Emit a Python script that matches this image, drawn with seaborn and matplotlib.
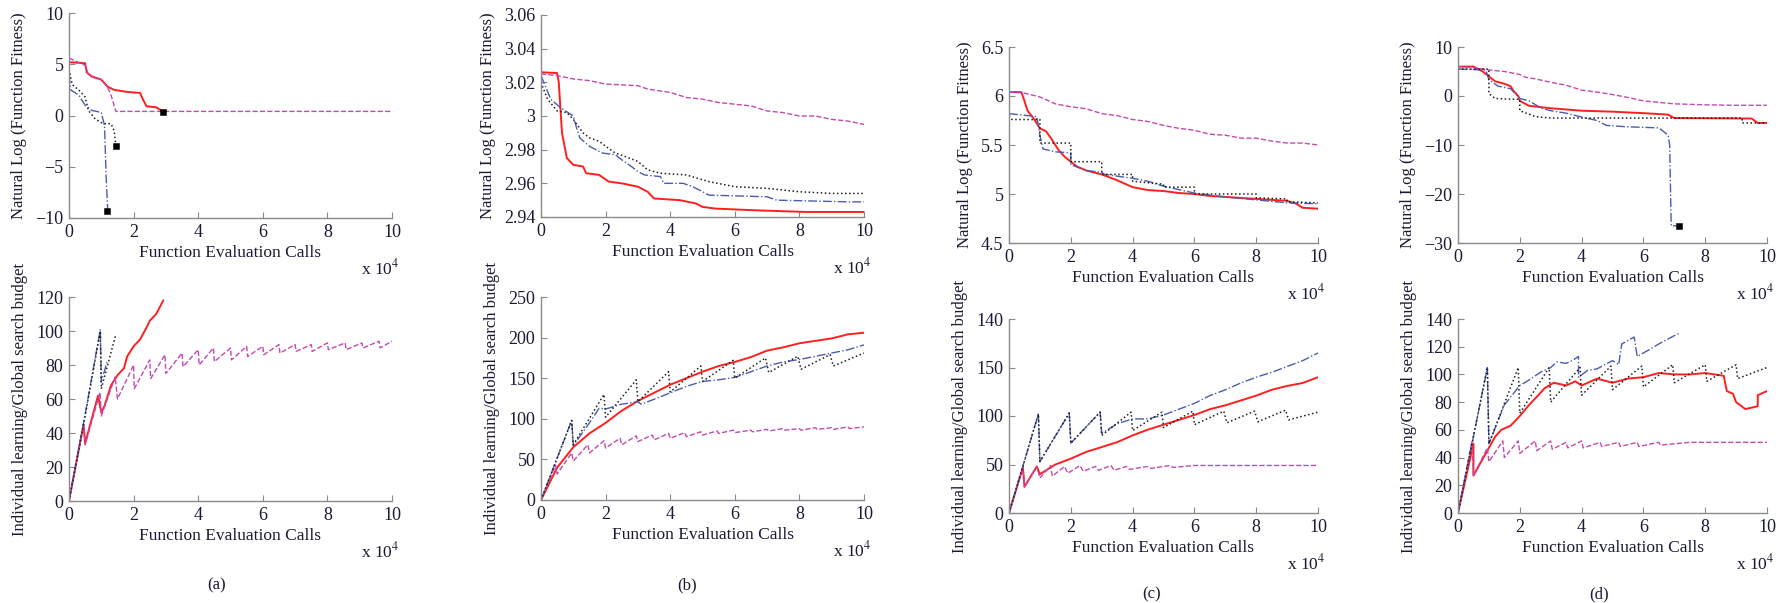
import matplotlib
matplotlib.use("Agg")
import matplotlib.pyplot as plt
import seaborn as sns

# x values are in units of 10^4 function evaluation calls
# ---------- panel (a) ----------
a_top_red = [(0, 5.2), (0.5, 5.1), (0.55, 4.2), (0.7, 3.8), (1.0, 3.5), (1.2, 2.8), (1.4, 2.5),
             (1.8, 2.3), (2.2, 2.2), (2.3, 1.5), (2.4, 0.9), (2.7, 0.8), (2.9, 0.4)]
a_top_mag = [(0, 5.6), (0.5, 4.9), (0.6, 4.0), (1.0, 3.5), (1.2, 2.7), (1.3, 2.0), (1.45, 0.4), (10, 0.4)]
a_top_blk = [(0, 4.5), (0.1, 3.0), (0.3, 2.5), (0.5, 1.8), (0.6, 0.5), (0.8, -0.3), (1.05, -0.8),
             (1.3, -0.8), (1.4, -1.5), (1.45, -3.0)]
a_top_blu = [(0, 4.0), (0.05, 2.5), (0.3, 2.0), (0.5, 1.0), (0.7, 0.5), (1.0, 0.3), (1.1, -1.0),
             (1.15, -6.0), (1.2, -9.3)]
a_top_end_x = [2.92, 1.45, 1.18]
a_top_end_y = [0.3, -3.0, -9.3]

a_bot_red = [(0, 0), (0.45, 45), (0.5, 34), (0.9, 62), (1.0, 52), (1.1, 56), (1.3, 68), (1.5, 74),
             (1.7, 78), (1.8, 85), (2.0, 91), (2.2, 95), (2.4, 102), (2.5, 106), (2.7, 110), (2.92, 118)]
a_bot_mag = [(0, 0), (0.45, 45), (0.5, 33), (0.96, 64), (1.0, 50), (1.43, 73), (1.5, 60), (2.0, 80),
             (2.02, 66), (2.5, 83), (2.53, 72), (2.97, 86), (3.0, 75), (3.5, 87), (3.53, 79),
             (4.0, 89), (4.03, 80), (4.47, 90), (4.5, 82), (5.0, 90), (5.03, 83), (5.5, 91),
             (5.53, 85), (6.0, 91), (6.03, 86), (6.5, 92), (6.53, 87), (7.0, 92), (7.03, 88),
             (7.5, 92), (7.53, 88), (8.0, 93), (8.03, 89), (8.55, 93), (8.58, 89), (9.07, 93),
             (9.1, 90), (9.6, 94), (9.63, 90), (10, 94)]
a_bot_blk = [(0, 0), (0.5, 50), (0.97, 100), (1.0, 66), (1.45, 98)]
a_bot_blu = [(0, 0), (0.5, 51), (0.97, 101), (1.0, 70), (1.18, 82)]

# ---------- panel (b) ----------
b_top_red = [(0, 3.026), (0.5, 3.0255), (0.55, 3.02), (0.6, 3.005), (0.65, 2.99), (0.8, 2.975),
             (1.0, 2.971), (1.3, 2.970), (1.4, 2.966), (1.8, 2.965), (2.1, 2.961), (2.5, 2.960),
             (3.0, 2.958), (3.3, 2.955), (3.5, 2.951), (4.3, 2.950), (4.8, 2.948), (5.0, 2.946),
             (5.4, 2.945), (6.6, 2.944), (8.2, 2.943), (10, 2.943)]
b_top_mag = [(0, 3.025), (0.5, 3.024), (1.0, 3.022), (1.5, 3.021), (2.0, 3.019), (3.0, 3.018),
             (3.3, 3.016), (4.0, 3.014), (4.5, 3.011), (5.0, 3.010), (5.5, 3.008), (6.5, 3.006),
             (7.0, 3.003), (7.5, 3.002), (8.0, 3.000), (8.5, 3.000), (9.0, 2.998), (9.5, 2.997),
             (10, 2.995)]
b_top_blk = [(0, 3.020), (0.2, 3.010), (0.5, 3.003), (0.8, 3.002), (1.0, 2.998), (1.3, 2.990),
             (1.5, 2.987), (1.8, 2.985), (2.0, 2.982), (2.3, 2.978), (2.6, 2.976), (3.0, 2.973),
             (3.3, 2.968), (3.7, 2.966), (4.5, 2.965), (5.2, 2.961), (6.0, 2.958), (7.0, 2.957),
             (8.0, 2.955), (9.0, 2.954), (10, 2.954)]
b_top_blu = [(0, 3.024), (0.3, 3.010), (0.6, 3.005), (1.0, 3.000), (1.1, 2.993), (1.2, 2.987),
             (1.5, 2.982), (1.9, 2.978), (2.3, 2.977), (2.5, 2.974), (2.8, 2.970), (3.0, 2.967),
             (3.2, 2.965), (3.7, 2.964), (3.8, 2.960), (4.4, 2.960), (4.7, 2.958), (5.0, 2.955),
             (5.2, 2.953), (7.0, 2.952), (7.3, 2.950), (9.5, 2.949), (10, 2.949)]

b_bot_red = [(0, 0), (0.5, 40), (1.0, 65), (1.5, 82), (2.0, 95), (2.5, 110), (3.0, 122), (3.5, 132),
             (4.0, 142), (4.5, 150), (5.0, 158), (5.5, 165), (6.0, 170), (6.5, 176), (7.0, 184),
             (7.5, 188), (8.0, 193), (8.5, 196), (9.0, 199), (9.5, 204), (10, 206)]
b_bot_mag = [(0, 0), (0.45, 43), (0.5, 32), (0.95, 58), (1.0, 48), (1.45, 68), (1.5, 58), (1.95, 73),
             (2.0, 64), (2.45, 76), (2.5, 68), (2.95, 79), (3.0, 72), (3.45, 80), (3.5, 74),
             (3.95, 82), (4.0, 76), (4.45, 83), (4.5, 78), (4.95, 84), (5.0, 80), (5.45, 85),
             (5.5, 82), (5.95, 86), (6.0, 83), (6.5, 86), (6.55, 84), (7.0, 87), (7.05, 85),
             (7.5, 88), (7.55, 86), (8.0, 88), (8.05, 86), (8.5, 89), (8.55, 87), (9.0, 89),
             (9.05, 87), (9.5, 90), (9.55, 88), (10, 90)]
b_bot_blk = [(0, 0), (0.95, 98), (1.0, 68), (1.95, 130), (2.0, 102), (2.95, 148), (3.0, 121),
             (3.95, 158), (4.0, 133), (4.95, 165), (5.0, 146), (5.95, 172), (6.0, 150),
             (6.95, 175), (7.05, 157), (7.95, 177), (8.05, 161), (8.95, 179), (9.05, 165), (10, 181)]
b_bot_blu = [(0, 0), (0.95, 98), (1.0, 67), (1.5, 95), (1.8, 113), (2.0, 112), (2.5, 118),
             (3.0, 121), (3.1, 118), (3.5, 124), (4.0, 132), (4.5, 140), (5.0, 146), (5.5, 148),
             (6.0, 151), (6.5, 158), (7.0, 165), (7.5, 170), (8.0, 173), (8.5, 177), (9.0, 181),
             (9.5, 185), (10, 191)]

# ---------- panel (c) ----------
c_top_red = [(0, 6.04), (0.4, 6.04), (0.5, 5.95), (0.6, 5.85), (0.8, 5.77), (0.9, 5.72), (1.0, 5.67),
             (1.2, 5.64), (1.4, 5.55), (1.6, 5.45), (1.8, 5.38), (2.0, 5.33), (2.2, 5.28), (2.5, 5.24),
             (3.0, 5.20), (3.5, 5.14), (4.0, 5.07), (4.5, 5.04), (5.0, 5.03), (5.5, 5.01), (6.0, 5.00),
             (6.5, 4.98), (7.0, 4.97), (8.0, 4.95), (9.0, 4.93), (9.3, 4.90), (9.5, 4.86), (10, 4.85)]
c_top_mag = [(0, 6.04), (0.5, 6.03), (1.0, 5.99), (1.5, 5.92), (2.0, 5.89), (2.5, 5.87), (3.0, 5.82),
             (3.5, 5.80), (4.0, 5.76), (4.5, 5.74), (5.0, 5.70), (5.5, 5.67), (6.0, 5.65), (6.5, 5.61),
             (7.0, 5.60), (7.5, 5.57), (8.0, 5.57), (8.5, 5.54), (9.0, 5.52), (9.5, 5.52), (10, 5.50)]
c_top_blk = [(0, 5.80), (0.1, 5.76), (1.0, 5.76), (1.0, 5.52), (2.0, 5.52), (2.0, 5.33), (3.0, 5.33),
             (3.0, 5.20), (4.0, 5.20), (4.0, 5.13), (5.0, 5.10), (5.0, 5.07), (6.0, 5.07), (6.0, 5.00),
             (8.0, 5.00), (8.0, 4.96), (9.0, 4.95), (9.0, 4.92), (10, 4.91)]
c_top_blu = [(0, 5.82), (0.9, 5.79), (1.0, 5.60), (1.1, 5.46), (1.5, 5.43), (2.0, 5.42), (2.0, 5.30),
             (2.5, 5.24), (3.0, 5.22), (3.1, 5.20), (4.0, 5.16), (4.5, 5.13), (5.0, 5.08), (6.0, 5.01),
             (7.0, 4.97), (8.0, 4.94), (9.0, 4.91), (10, 4.90)]

c_bot_red = [(0, 0), (0.45, 47), (0.5, 27), (0.9, 48), (1.0, 40), (1.5, 50), (2.0, 56), (2.5, 63),
             (3.0, 68), (3.5, 73), (4.0, 80), (4.5, 86), (5.0, 91), (5.5, 96), (6.0, 101), (6.5, 107),
             (7.0, 111), (7.5, 116), (8.0, 121), (8.5, 127), (9.0, 131), (9.5, 134), (10, 140)]
c_bot_mag = [(0, 0), (0.45, 47), (0.5, 27), (0.9, 48), (1.0, 36), (1.35, 49), (1.4, 38), (1.8, 48),
             (1.9, 41), (2.3, 49), (2.4, 43), (2.8, 48), (2.9, 44), (3.3, 49), (3.4, 44), (3.8, 48),
             (3.9, 45), (4.5, 48), (4.6, 46), (5.2, 49), (5.3, 47), (6.0, 49), (7.0, 49), (8.0, 49),
             (9.0, 49), (10, 49)]
c_bot_blk = [(0, 0), (0.95, 102), (1.0, 53), (1.95, 103), (2.0, 72), (2.95, 104), (3.0, 80),
             (3.95, 104), (4.0, 85), (4.95, 104), (5.0, 88), (5.95, 105), (6.0, 91), (6.95, 105),
             (7.05, 93), (7.95, 105), (8.05, 94), (8.95, 106), (9.05, 96), (10, 104)]
c_bot_blu = [(0, 0), (0.95, 102), (1.0, 53), (1.95, 103), (2.0, 72), (2.95, 104), (3.0, 82),
             (3.5, 92), (4.0, 97), (4.5, 97), (5.0, 101), (5.5, 107), (6.0, 113), (6.5, 121),
             (7.0, 127), (7.5, 134), (8.0, 140), (8.5, 145), (9.0, 151), (9.5, 157), (10, 165)]

# ---------- panel (d) ----------
d_top_red = [(0, 6), (0.5, 6), (0.8, 5), (1.0, 4), (1.2, 3), (1.5, 2.5), (1.7, 2.0), (1.8, 1.0),
             (1.95, 0), (2.0, -1), (2.3, -2), (3.0, -2.5), (4.0, -3), (5.0, -3.2), (6.0, -3.5),
             (6.8, -3.8), (7.0, -4.5), (9.5, -4.6), (9.7, -5.5), (10, -5.5)]
d_top_mag = [(0, 6), (0.5, 5.8), (1.0, 5.3), (1.5, 5), (2.0, 4.4), (2.2, 3.8), (2.5, 3.5), (3.0, 2.8),
             (3.5, 2.2), (4.0, 1.2), (4.5, 0.8), (5.0, 0.3), (5.5, -0.3), (6.0, -1.0), (6.5, -1.3),
             (7.0, -1.6), (8.0, -1.8), (9.0, -1.9), (10, -1.9)]
d_top_blk = [(0, 5.5), (1.0, 5.5), (1.0, 0.5), (1.2, -0.5), (1.5, -0.6), (2.0, -0.7), (2.0, -3),
             (2.5, -4.2), (3.0, -4.5), (9.2, -4.5), (9.2, -5.5), (10, -5.5)]
d_top_blu = [(0, 5.5), (0.9, 5.3), (1.0, 3.3), (1.3, 2.0), (1.7, 1.5), (2.0, -0.5), (2.3, -1.0),
             (2.7, -2.5), (3.0, -3.0), (3.5, -3.5), (4.0, -4.3), (4.5, -5.0), (4.8, -6.0),
             (5.5, -6.3), (6.5, -6.5), (6.8, -8.0), (6.85, -10), (6.9, -26.5), (7.1, -26.5)]
d_top_end_x = [7.15]
d_top_end_y = [-26.5]

d_bot_red = [(0, 0), (0.5, 50), (0.5, 27), (1.0, 47), (1.2, 55), (1.4, 60), (1.7, 63), (2.0, 70),
             (2.3, 78), (2.6, 85), (2.8, 90), (3.1, 94), (3.5, 92), (3.8, 95), (4.0, 92), (4.3, 95),
             (4.5, 97), (5.0, 94), (5.5, 97), (6.0, 98), (6.5, 101), (7.0, 100), (7.5, 100),
             (8.0, 101), (8.6, 99), (8.7, 88), (8.9, 86), (9.0, 80), (9.3, 75), (9.7, 77),
             (9.7, 85), (10, 88)]
d_bot_mag = [(0, 0), (0.45, 52), (0.5, 27), (0.95, 47), (1.0, 37), (1.45, 52), (1.5, 40), (1.95, 52),
             (2.0, 43), (2.5, 52), (2.55, 45), (3.0, 52), (3.05, 46), (3.5, 51), (3.55, 47),
             (4.0, 52), (4.05, 47), (4.6, 51), (4.65, 48), (5.2, 51), (5.25, 48), (5.8, 51),
             (5.85, 48), (6.5, 51), (6.55, 49), (7.5, 51), (8.5, 51), (10, 51)]
d_bot_blk = [(0, 0), (0.95, 105), (1.0, 50), (1.95, 105), (2.0, 72), (2.95, 105), (3.0, 80),
             (3.95, 105), (4.0, 85), (4.95, 106), (5.0, 89), (5.95, 106), (6.0, 91), (6.95, 107),
             (7.0, 94), (8.0, 107), (8.05, 95), (9.0, 107), (9.05, 97), (10, 105)]
d_bot_blu = [(0, 0), (0.95, 105), (1.0, 50), (1.5, 78), (2.0, 92), (2.3, 96), (2.7, 102), (3.0, 105),
             (3.2, 109), (3.5, 108), (3.7, 110), (3.9, 113), (3.9, 98), (4.2, 103), (4.5, 104),
             (5.0, 110), (5.2, 107), (5.3, 122), (5.7, 127), (5.8, 113), (6.2, 118), (6.5, 122),
             (7.0, 128), (7.2, 130)]

top_ylims = [(-10, 10), (2.94, 3.06), (4.5, 6.5), (-30, 10)]
top_yticks = [[-10, -5, 0, 5, 10], [2.94, 2.96, 2.98, 3.0, 3.02, 3.04, 3.06],
              [4.5, 5, 5.5, 6, 6.5], [-30, -20, -10, 0, 10]]
top_yticklabels = [["\u221210", "\u22125", "0", "5", "10"],
                   ["2.94", "2.96", "2.98", "3", "3.02", "3.04", "3.06"],
                   ["4.5", "5", "5.5", "6", "6.5"],
                   ["\u221230", "\u221220", "\u221210", "0", "10"]]
bot_ylims = [(0, 120), (0, 250), (0, 200), (0, 140)]
bot_yticks = [[0, 20, 40, 60, 80, 100, 120], [0, 50, 100, 150, 200, 250],
              [0, 50, 100, 150, 200], [0, 20, 40, 60, 80, 100, 120, 140]]
bot_yticklabels = [None, None, ["0", "50", "100", "150", "140"], None]
panel_letters = ["(a)", "(b)", "(c)", "(d)"]

sns.set_style("ticks")
plt.rcParams["font.family"] = "serif"
plt.rcParams["font.serif"] = ["Liberation Serif", "DejaVu Serif"]
plt.rcParams["mathtext.fontset"] = "stix"
plt.rcParams["axes.unicode_minus"] = True

RED, MAG, BLU, BLK = "#ff1f1f", "#c34ab0", "#4a5cb0", "#1e1e1e"
styles = [(RED, "-", 1.4), (MAG, "--", 1.0), (BLU, "-.", 1.0), (BLK, ":", 1.1)]
TXT = "#1a1a33"

fig = plt.figure(figsize=(17.89, 6.03), dpi=100)
W, H = 1789, 603
# pixel boxes (left, top, right, bottom)
top_boxes = [(69, 13, 392, 218), (541, 15, 864, 217), (1009, 47, 1318, 243), (1458, 47, 1767, 243)]
bot_boxes = [(69, 297, 392, 501), (541, 297, 864, 500), (1009, 319, 1318, 513), (1458, 319, 1767, 513)]
letter_pos = [(217, 585), (687, 585), (1152, 594), (1599, 594)]

top_series = [[a_top_red, a_top_mag, a_top_blu, a_top_blk], [b_top_red, b_top_mag, b_top_blu, b_top_blk],
              [c_top_red, c_top_mag, c_top_blu, c_top_blk], [d_top_red, d_top_mag, d_top_blu, d_top_blk]]
bot_series = [[a_bot_red, a_bot_mag, a_bot_blu, a_bot_blk], [b_bot_red, b_bot_mag, b_bot_blu, b_bot_blk],
              [c_bot_red, c_bot_mag, c_bot_blu, c_bot_blk], [d_bot_red, d_bot_mag, d_bot_blu, d_bot_blk]]
top_ends = [(a_top_end_x, a_top_end_y), None, None, (d_top_end_x, d_top_end_y)]


def make_ax(box):
    l, t, r, b = box
    return fig.add_axes([l / W, 1 - b / H, (r - l) / W, (b - t) / H])


def style_ax(ax, ylim, yticks, ylabels, ylabel):
    ax.set_xlim(0, 10)
    ax.set_ylim(*ylim)
    ax.set_xticks([0, 2, 4, 6, 8, 10])
    ax.set_yticks(yticks)
    if ylabels is not None:
        ax.set_yticklabels(ylabels)
    sns.despine(ax=ax)
    for s in ["left", "bottom"]:
        ax.spines[s].set_color("#8a8a8a")
        ax.spines[s].set_linewidth(1.0)
    ax.tick_params(direction="in", length=4, color="#8a8a8a", labelsize=13,
                   labelcolor=TXT, pad=4)
    ax.set_xlabel("Function Evaluation Calls", fontsize=12.5, color=TXT, labelpad=3)
    ax.set_ylabel(ylabel, fontsize=12, color=TXT, labelpad=6)
    ax.annotate(r"x 10$^{4}$", xy=(1.0, 0), xycoords="axes fraction", xytext=(5, -29),
                textcoords="offset points", ha="right", va="top", fontsize=12.5, color=TXT)


def draw(ax, series):
    for pts, (c, ls, lw) in zip(series, styles):
        xs = [p[0] for p in pts]
        ys = [p[1] for p in pts]
        sns.lineplot(x=xs, y=ys, ax=ax, color=c, linestyle=ls, linewidth=lw,
                     sort=False, estimator=None)


for i in range(4):
    ax = make_ax(top_boxes[i])
    draw(ax, top_series[i])
    if top_ends[i] is not None:
        sns.scatterplot(x=top_ends[i][0], y=top_ends[i][1], ax=ax, marker="s", color="black",
                        s=22, edgecolor="black", zorder=5)
    style_ax(ax, top_ylims[i], top_yticks[i], top_yticklabels[i], "Natural Log (Function Fitness)")

    ax = make_ax(bot_boxes[i])
    draw(ax, bot_series[i])
    style_ax(ax, bot_ylims[i], bot_yticks[i], bot_yticklabels[i],
             "Individual learning/Global search budget")

    fig.text(letter_pos[i][0] / W, 1 - letter_pos[i][1] / H, panel_letters[i],
             ha="center", va="center", fontsize=12, color=TXT)

fig.savefig("out.png", dpi=100)
